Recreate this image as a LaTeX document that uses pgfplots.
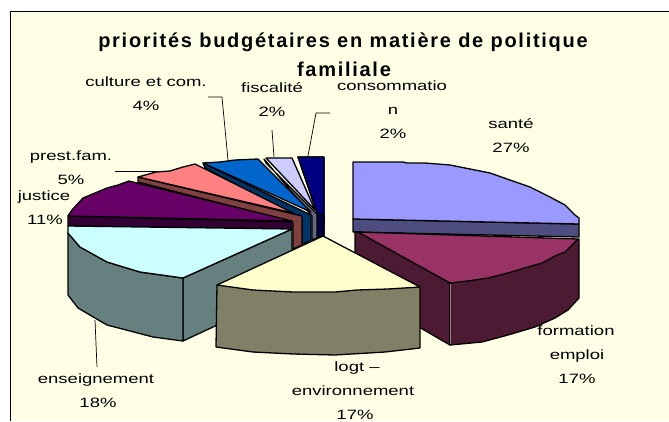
\documentclass[border=0pt]{standalone}
\usepackage{fontspec}
\setmainfont{Liberation Sans}
\newfontfamily\lab[FakeStretch=1.37]{Liberation Sans}
\newfontfamily\ttl[LetterSpace=8.6]{Liberation Sans}
\usepackage{pgfplots}
\pgfplotsset{compat=1.18}
\tikzset{lbl/.style={font=\lab\fontsize{13.5}{13.5}\selectfont, inner sep=0pt, anchor=center, text height=10pt, text depth=2pt}}
\definecolor{bg}{HTML}{FFFFE5}
\definecolor{sante}{HTML}{9999FF}
\definecolor{santeD}{HTML}{4D4D80}
\definecolor{form}{HTML}{993366}
\definecolor{formD}{HTML}{4D1A33}
\definecolor{logt}{HTML}{FFFFCC}
\definecolor{logtD}{HTML}{808066}
\definecolor{ens}{HTML}{CCFFFF}
\definecolor{ensD}{HTML}{668080}
\definecolor{just}{HTML}{660066}
\definecolor{justD}{HTML}{330033}
\definecolor{prest}{HTML}{FF8080}
\definecolor{prestD}{HTML}{804040}
\definecolor{cult}{HTML}{0066CC}
\definecolor{cultD}{HTML}{003366}
\definecolor{fisc}{HTML}{CCCCFF}
\definecolor{fiscD}{HTML}{666680}
\definecolor{cons}{HTML}{000080}
\definecolor{consD}{HTML}{000040}
\begin{document}
\begin{tikzpicture}
\begin{axis}[
  hide axis, scale only axis, width=669pt, height=421pt,
  xmin=0, xmax=669, ymin=0, ymax=421, y dir=reverse,
  every axis plot/.append style={line width=1.3pt, line join=round, draw=black, no markers},
]
% background and frame
\addplot[draw=none, fill=white] coordinates {(0,0)(669,0)(669,421)(0,421)} --cycle;
\addplot[draw=none, fill=bg] coordinates {(10,11)(669,11)(669,421)(10,421)} --cycle;
\addplot[line width=0.9pt] coordinates {(10,421)(10,11)(669,11)};

% consommation
\addplot[fill=consD] coordinates {(298,157)(317,213)(317,235)(324,235)(324,157)} --cycle;
\addplot[fill=cons] coordinates {(298,157)(324,157)(324,225)(317,213)} --cycle;
\addplot[fill=consD] coordinates {(316,214)(324,214)(324,236)(316,238)} --cycle;
% fiscalite
\addplot[fill=fiscD] coordinates {(264,159)(312,216)(312,240)(317,238)(317,214)(266,163)} --cycle;
\addplot[fill=fisc] coordinates {(266,158)(292,158)(315,210)} --cycle;
% culture
\addplot[fill=cultD] coordinates {(203,163)(205,168)(302,220)(302,244)(311,241)(311,215)} --cycle;
\addplot[fill=cult] coordinates {(203,163)(220,162)(235,160)(258,159)(311,212)} --cycle;
% prest. fam.
\addplot[fill=prestD] coordinates {(138,177)(138,182)(293,222)(293,249)(302,245)(302,216)} --cycle;
\addplot[fill=prest] coordinates {(138,177)(156,172)(170,171)(183,167)(195,164)(293,213)} --cycle;
% justice
\addplot[fill=justD] coordinates {(68,216)(292,222)(292,229)(68,226)} --cycle;
\addplot[fill=just] coordinates {(68,216)(72,210)(83,198)(95,193)(107,188)(118,185)(129,181)(137,183)(292,221)} --cycle;
% enseignement
\addplot[fill=ensD] coordinates {(183,278)(292,229)(292,290)(183,341)} --cycle;
\addplot[fill=ensD] coordinates {(68,233)(80,247)(107,262)(140,272)(183,278)(183,341)(153,337)(107,325)(78,308)(68,295)} --cycle;
\addplot[fill=ens] coordinates {(68,226)(292,229)(183,278)(140,272)(107,262)(80,247)(68,233)} --cycle;
% sante
\addplot[fill=santeD] coordinates {(353,219)(577,224)(579,224)(579,237)(353,232)} --cycle;
\addplot[fill=sante] coordinates {(353,162)(403,162)(407,163)(425,163)(450,165)(470,169)(490,173)(510,180)(530,187)(550,197)(565,205)(575,215)(579,218)(579,224)(353,219)} --cycle;
% formation
\addplot[fill=formD] coordinates {(355,232)(360,232)(450,283)(450,345)(355,290)} --cycle;
\addplot[fill=formD] coordinates {(579,239)(579,298)(568,310)(555,318)(535,327)(508,335)(482,342)(450,345)(450,283)} --cycle;
\addplot[fill=form] coordinates {(358,232)(578,239)(565,252)(557,255)(542,263)(528,267)(508,273)(488,278)(468,281)(450,283)} --cycle;
\addplot[draw=gray, line width=0.5pt] coordinates {(450,284)(450,344)};
% logt
\addplot[fill=logtD] coordinates {(217,285)(420,287)(420,348)(385,352)(352,354)(335,355)(293,354)(253,352)(216,347)} --cycle;
\addplot[fill=logt] coordinates {(323,236)(420,287)(388,289)(357,290)(335,292)(293,292)(253,290)(217,285)} --cycle;

% leader lines
\addplot[line width=0.7pt] coordinates {(208,97)(222,97)(228,160)};
\addplot[line width=0.7pt] coordinates {(272,130)(274,157)};
\addplot[line width=0.7pt] coordinates {(330,113)(316,113)(308,156)};
\addplot[line width=0.7pt] coordinates {(115,171)(157,171)};
\addplot[line width=0.7pt] coordinates {(95,320)(97,367)};

% title
\node[font=\ttl\bfseries\fontsize{20}{20}\selectfont, inner sep=0pt] at (axis cs:343,42) {priorités budgétaires en matière de politique};
\node[font=\ttl\bfseries\fontsize{20}{20}\selectfont, inner sep=0pt] at (axis cs:344,69) {familiale};

% labels
\node[lbl] at (axis cs:146,82) {culture et com.};
\node[lbl] at (axis cs:146,106) {4\%};
\node[lbl] at (axis cs:272,88) {fiscalité};
\node[lbl] at (axis cs:272,112) {2\%};
\node[lbl] at (axis cs:392,86) {consommatio};
\node[lbl] at (axis cs:393,110) {n};
\node[lbl] at (axis cs:393,134) {2\%};
\node[lbl] at (axis cs:511,124) {santé};
\node[lbl] at (axis cs:511,148) {27\%};
\node[lbl] at (axis cs:71,156) {prest.fam.};
\node[lbl] at (axis cs:71,180) {5\%};
\node[lbl] at (axis cs:44,196) {justice};
\node[lbl] at (axis cs:45,220) {11\%};
\node[lbl] at (axis cs:96,379) {enseignement};
\node[lbl] at (axis cs:98,403) {18\%};
\node[lbl] at (axis cs:357,367) {logt –};
\node[lbl] at (axis cs:353,391) {environnement};
\node[lbl] at (axis cs:355,415) {17\%};
\node[lbl] at (axis cs:576,331) {formation};
\node[lbl] at (axis cs:577,355) {emploi};
\node[lbl] at (axis cs:577,379) {17\%};
\end{axis}
\end{tikzpicture}
\end{document}
